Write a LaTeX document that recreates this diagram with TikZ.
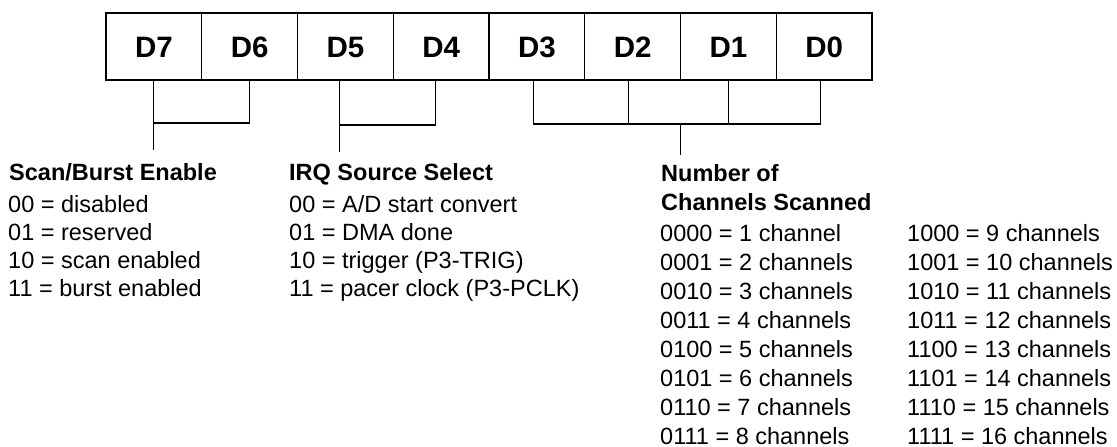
\documentclass[tikz,border=0pt]{standalone}
\usepackage{fontspec}
\setmainfont{Liberation Sans}
\begin{document}
\begin{tikzpicture}[x=1pt,y=-1pt,
  cell/.style={draw,line width=1.3pt,minimum width=95.75pt,minimum height=67pt,inner sep=0pt,outer sep=0pt,text height=21pt,text depth=0pt,font=\fontsize{29.5}{31}\selectfont\bfseries},
  txt/.style={anchor=base west,inner sep=0pt,text depth=0pt,font=\fontsize{23.5}{27}\selectfont},
  head/.style={anchor=base west,inner sep=0pt,text depth=0pt,font=\fontsize{23.5}{27}\selectfont\bfseries},
  link/.style={line width=1.2pt}]
\useasboundingbox (0,0) rectangle (1117,447);
% register cells
\foreach \i/\n in {0/D7,1/D6,2/D5,3/D4,4/D3,5/D2,6/D1,7/D0}
  \node[cell] (\n) at ({106+95.75*\i+47.875},46.5) {\n};
\draw[line width=2.6pt] (D7.north west) rectangle (D0.south east);
% bracket D7/D6
\draw[link] (D7.south) -- ++(0,43) coordinate (sbj) -| (D6.south);
\draw[link] (sbj) -- ++(0,27) coordinate (sbend);
% bracket D5/D4
\draw[link] ([xshift=-6pt]D5.south) -- ++(0,45) coordinate (irqj) -| ([xshift=-6pt]D4.south);
\draw[link] (irqj) -- ++(0,27) coordinate (irqend);
% bracket D3..D0
\draw[link] ([xshift=-3pt]D3.south) -- ++(0,44) -| ([xshift=-4pt]D0.south);
\draw[link] ([xshift=-4pt]D2.south) -- ++(0,44);
\draw[link] (D1.south) -- ++(0,44);
\coordinate (chj) at ([yshift=-44pt]D2.south east);
\draw[link] (chj) -- ++(0,31) coordinate (chend);
% Scan/Burst
\node[head] (sbh) at (9,180) {Scan/Burst Enable};
\node[txt] (sb0) at (8,212) {00 = disabled};
\node[txt] (sb1) at (8,240) {01 = reserved};
\node[txt] (sb2) at (8,268) {10 = scan enabled};
\node[txt] (sb3) at (8,296) {11 = burst enabled};
% IRQ
\node[head] (irqh) at (289,180) {IRQ Source Select};
\node[txt] (irq0) at (289,212) {00 = A/D start convert};
\node[txt] (irq1) at (289,240) {01 = DMA done};
\node[txt] (irq2) at (289,268) {10 = trigger (P3-TRIG)};
\node[txt] (irq3) at (289,296) {11 = pacer clock (P3-PCLK)};
% Channels
\node[head] (chh1) at (661,181) {Number of};
\node[head] (chh2) at (661,210) {Channels Scanned};
\foreach \k/\a/\b in {0/{0000 = 1 channel}/{1000 = 9 channels},
                      1/{0001 = 2 channels}/{1001 = 10 channels},
                      2/{0010 = 3 channels}/{1010 = 11 channels},
                      3/{0011 = 4 channels}/{1011 = 12 channels},
                      4/{0100 = 5 channels}/{1100 = 13 channels},
                      5/{0101 = 6 channels}/{1101 = 14 channels},
                      6/{0110 = 7 channels}/{1110 = 15 channels},
                      7/{0111 = 8 channels}/{1111 = 16 channels}}{
  \node[txt] (chl\k) at (660,{241+29*\k}) {\a};
  \node[txt] (chr\k) at (907,{241+29*\k}) {\b};
}
\end{tikzpicture}
\end{document}
